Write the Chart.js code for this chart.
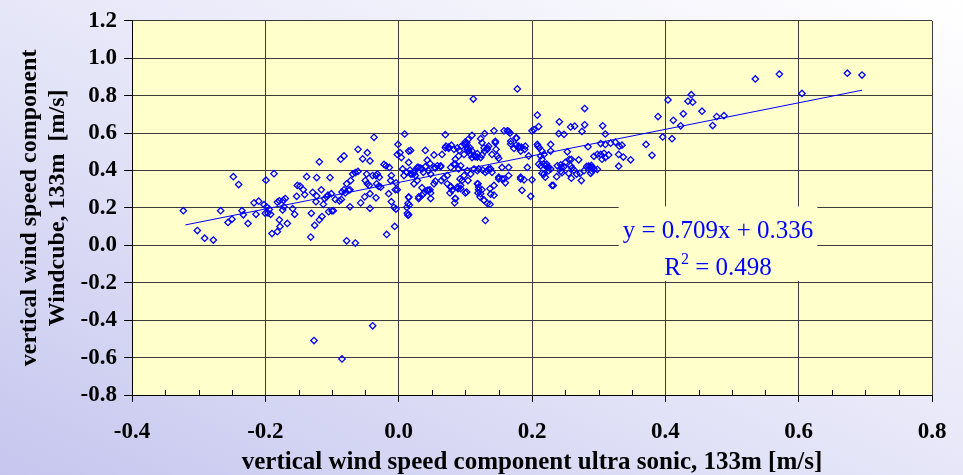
<!DOCTYPE html>
<html>
<head>
<meta charset="utf-8">
<script src="https://cdn.jsdelivr.net/npm/chart.js@4.4.1/dist/chart.umd.min.js"></script>
<style>
    html, body { margin: 0; padding: 0; }
    body {
        width: 963px;
        height: 475px;
        overflow: hidden;
        background: linear-gradient(to top right, #c6c6ef 0%, #e4e4f8 45%, #ffffff 100%);
    }
</style>
</head>
<body>
<canvas id="windChart" width="963" height="475"></canvas>
<script>
// tick labels
const xTickValues = [-0.4, -0.2, 0.0, 0.2, 0.4, 0.6, 0.8];
const yTickValues = [-0.8, -0.6, -0.4, -0.2, 0.0, 0.2, 0.4, 0.6, 0.8, 1.0, 1.2];

// axis titles
const xTitle = 'vertical wind speed component ultra sonic, 133m [m/s]';
const yTitle = ['vertical wind speed component', 'Windcube, 133m  [m/s]'];

// regression text
const equationText = 'y = 0.709x + 0.336';
const rSquaredText = '0.498';

// trend line end points (ultra sonic, windcube)
const trendX = [-0.32, 0.695];
const trendY = [0.109, 0.829];

// 10-min pairs: [ultra sonic, windcube]
const measuredPairs = [
    [-0.323,0.185],[-0.302,0.079],[-0.291,0.038],[-0.278,0.028],[-0.267,0.185],[-0.248,0.367],[-0.240,0.325],[-0.256,0.122],[-0.250,0.140],[-0.235,0.185],
    [-0.233,0.163],[-0.226,0.117],[-0.217,0.227],[-0.210,0.236],[-0.214,0.166],[-0.199,0.348],[-0.187,0.383],[-0.202,0.217],[-0.198,0.206],[-0.194,0.192],
    [-0.200,0.171],[-0.196,0.173],[-0.192,0.166],[-0.190,0.063],[-0.182,0.073],[-0.179,0.136],[-0.178,0.101],[-0.167,0.117],[-0.182,0.231],[-0.179,0.238],
    [-0.173,0.241],[-0.170,0.250],[-0.172,0.206],[-0.174,0.189],[-0.159,0.196],[-0.156,0.166],[-0.153,0.262],[-0.152,0.320],[-0.148,0.317],[-0.143,0.297],
    [-0.141,0.271],[-0.138,0.367],[-0.131,0.171],[-0.132,0.044],[-0.129,0.283],[-0.126,0.107],[-0.123,0.264],[-0.124,0.233],[-0.119,0.446],[-0.123,0.362],
    [-0.119,0.136],[-0.115,0.154],[-0.116,0.297],[-0.113,0.219],[-0.111,0.250],[-0.108,0.259],[-0.106,0.268],[-0.103,0.362],[-0.105,0.180],[-0.100,0.184],
    [-0.098,0.185],[-0.101,0.276],[-0.095,0.245],[-0.087,0.460],[-0.082,0.478],[-0.089,0.238],[-0.086,0.245],[-0.085,0.285],[-0.082,0.297],[-0.080,0.280],
    [-0.078,0.329],[-0.075,0.294],[-0.073,0.297],[-0.072,0.346],[-0.069,0.381],[-0.065,0.388],[-0.061,0.395],[-0.078,0.024],[-0.065,0.012],[-0.073,0.206],
    [-0.061,0.513],[-0.054,0.462],[-0.047,0.495],[-0.043,0.451],[-0.057,0.227],[-0.051,0.259],[-0.050,0.346],[-0.047,0.329],[-0.044,0.320],[-0.048,0.381],
    [-0.043,0.276],[-0.039,0.373],[-0.034,0.373],[-0.032,0.381],[-0.029,0.364],[-0.033,0.329],[-0.030,0.315],[-0.027,0.311],[-0.034,0.254],[-0.043,0.198],
    [-0.037,0.577],[-0.022,0.432],[-0.019,0.425],[-0.014,0.416],[-0.011,0.373],[-0.012,0.346],[-0.015,0.276],[-0.004,0.334],[-0.005,0.297],[-0.002,0.297],
    [-0.011,0.233],[-0.007,0.203],[-0.004,0.194],[-0.006,0.101],[-0.018,0.058],[-0.001,0.539],[-0.002,0.486],[0.002,0.495],[0.004,0.469],[0.006,0.408],
    [0.009,0.595],[-0.127,-0.509],[-0.085,-0.607],[-0.039,-0.430],
    [0.178,0.836],[0.112,0.782],[0.015,0.504],[0.018,0.507],
    [0.015,0.443],[0.017,0.402],[0.012,0.390],[0.008,0.373],[0.020,0.381],[0.023,0.395],[0.028,0.416],[0.033,0.413],[0.037,0.390],[0.040,0.507],
    [0.043,0.455],[0.047,0.437],[0.053,0.483],[0.055,0.413],[0.063,0.425],[0.065,0.486],[0.071,0.530],[0.070,0.591],[0.075,0.518],[0.079,0.535],
    [0.083,0.513],[0.085,0.460],[0.090,0.478],[0.085,0.434],[0.093,0.425],[0.098,0.486],[0.103,0.513],[0.100,0.553],[0.104,0.565],[0.107,0.521],
    [0.110,0.504],[0.114,0.478],[0.118,0.472],[0.123,0.469],[0.125,0.483],[0.129,0.504],[0.133,0.521],[0.135,0.530],[0.140,0.486],[0.143,0.612],
    [0.145,0.548],[0.148,0.478],[0.150,0.465],[0.155,0.416],[0.158,0.612],[0.163,0.612],[0.165,0.609],[0.168,0.556],[0.173,0.518],[0.177,0.574],
    [0.180,0.530],[0.183,0.504],[0.190,0.530],[0.195,0.478],
    [0.015,0.255],[0.012,0.203],[0.015,0.163],[0.023,0.329],[0.028,0.346],[0.030,0.259],[0.035,0.308],[0.037,0.276],[0.043,0.294],[0.047,0.297],
    [0.048,0.280],[0.053,0.329],[0.055,0.343],[0.064,0.346],[0.068,0.360],[0.073,0.373],[0.078,0.311],[0.080,0.294],[0.077,0.280],[0.085,0.250],
    [0.084,0.227],[0.089,0.303],[0.092,0.355],[0.093,0.320],[0.095,0.346],[0.104,0.346],[0.102,0.285],[0.108,0.381],[0.113,0.408],[0.118,0.399],
    [0.119,0.329],[0.120,0.297],[0.123,0.276],[0.122,0.259],[0.128,0.241],[0.133,0.399],[0.138,0.408],[0.137,0.303],[0.143,0.268],[0.137,0.220],
    [0.130,0.133],[0.150,0.364],[0.155,0.355],[0.160,0.334],[0.165,0.416],[0.183,0.355],[0.185,0.294],[0.193,0.416],[0.198,0.262],[0.200,0.350],
    [0.014,0.161],[0.203,0.618],[0.208,0.696],[0.210,0.635],[0.208,0.539],[0.213,0.478],[0.215,0.460],[0.218,0.434],[0.220,0.425],[0.223,0.416],
    [0.225,0.399],[0.218,0.381],[0.220,0.364],[0.228,0.504],
    [0.167,0.600],[0.176,0.574],[0.200,0.612],[0.129,0.597],[0.110,0.588],[0.123,0.570],
    [0.070,0.521],[0.075,0.525],[0.088,0.521],[0.091,0.507],[0.094,0.530],[0.099,0.539],[0.102,0.548],[0.103,0.522],[0.105,0.504],[0.108,0.486],
    [0.110,0.469],[0.115,0.474],[0.118,0.490],[0.125,0.548],[0.128,0.521],[0.133,0.513],[0.145,0.556],[0.146,0.513],[0.168,0.542],[0.176,0.535],
    [0.180,0.521],[0.184,0.525],[0.189,0.513],[0.209,0.530],[0.211,0.521],[0.215,0.504],[0.218,0.486],[0.222,0.434],[0.225,0.416],[0.228,0.408],
    [0.215,0.385],[0.018,0.381],[0.023,0.385],[0.025,0.373],[0.030,0.416],[0.035,0.408],[0.040,0.420],[0.045,0.399],[0.048,0.381],[0.054,0.416],
    [0.058,0.425],[0.063,0.420],[0.078,0.416],[0.083,0.434],[0.090,0.408],[0.098,0.373],[0.103,0.399],[0.120,0.408],[0.126,0.402],[0.130,0.390],
    [0.135,0.408],[0.140,0.390],[0.150,0.355],[0.158,0.355],[0.165,0.373],[0.183,0.364],[0.188,0.350],[0.073,0.329],[0.078,0.315],[0.088,0.311],
    [0.093,0.303],[0.100,0.280],[0.118,0.329],[0.120,0.311],[0.125,0.297],[0.138,0.273],[0.143,0.320],[0.045,0.294],[0.048,0.250],[0.035,0.268],
    [0.030,0.250],[0.015,0.259],[0.014,0.224],[0.016,0.215],[0.013,0.171],[0.085,0.250],[0.119,0.280],[0.128,0.241],[0.133,0.224],[0.230,0.320],
    [0.210,0.434],[0.213,0.425],
    [0.241,0.660],[0.258,0.633],[0.264,0.637],[0.279,0.731],[0.279,0.644],[0.275,0.609],[0.240,0.597],[0.248,0.593],[0.306,0.639],[0.310,0.595],
    [0.228,0.539],[0.253,0.500],[0.284,0.527],[0.303,0.544],[0.310,0.539],[0.318,0.546],[0.325,0.551],[0.331,0.530],[0.335,0.535],[0.256,0.460],
    [0.259,0.460],[0.270,0.457],[0.243,0.430],[0.244,0.416],[0.248,0.420],[0.243,0.395],[0.245,0.388],[0.237,0.367],[0.255,0.385],[0.260,0.413],
    [0.259,0.359],[0.267,0.381],[0.272,0.385],[0.274,0.346],[0.282,0.422],[0.285,0.423],[0.289,0.427],[0.290,0.416],[0.288,0.385],[0.298,0.406],
    [0.293,0.476],[0.298,0.486],[0.303,0.486],[0.308,0.492],[0.315,0.483],[0.310,0.469],[0.305,0.460],[0.330,0.486],[0.337,0.472],[0.348,0.457],
    [0.330,0.423],[0.232,0.320],[0.238,0.425],[0.250,0.443],[0.258,0.425],[0.263,0.402],[0.278,0.399],[0.287,0.416],[0.293,0.408],[0.290,0.395],
    [0.371,0.539],[0.380,0.481],[0.389,0.688],[0.396,0.579],[0.410,0.570],[0.412,0.668],[0.423,0.639],[0.427,0.703],
    [0.404,0.777],[0.434,0.770],[0.441,0.765],[0.455,0.717],[0.439,0.805],[0.471,0.640],[0.477,0.688],[0.488,0.693],[0.535,0.889],[0.571,0.915],
    [0.605,0.812],[0.673,0.920],[0.695,0.910]
];

const serif = "'Liberation Serif', 'Times New Roman', serif";
const plotColor = '#ffffcc';
const markColor = '#0000ff';

function formatTick(v) {
    const r = Math.round(v * 10) / 10;
    return (r === 0 ? 0 : r).toFixed(1);
}

// pale yellow plot area
const plotBackground = {
    id: 'plotBackground',
    beforeDraw(chart) {
        const { ctx, chartArea: a } = chart;
        ctx.save();
        ctx.fillStyle = plotColor;
        ctx.fillRect(a.left, a.top, a.right - a.left, a.bottom - a.top);
        ctx.restore();
    }
};

// small inner ticks on the x axis
const minorTicks = {
    id: 'minorTicks',
    afterDatasetsDraw(chart) {
        const { ctx, chartArea: a, scales } = chart;
        const xs = scales.x;
        ctx.save();
        ctx.strokeStyle = '#000';
        ctx.lineWidth = 1;
        for (let i = 0; i < xTickValues.length - 1; i++) {
            for (let k = 1; k < 4; k++) {
                const v = xTickValues[i] + k * (xTickValues[i + 1] - xTickValues[i]) / 4;
                const px = Math.round(xs.getPixelForValue(v)) + 0.5;
                ctx.beginPath();
                ctx.moveTo(px, a.bottom);
                ctx.lineTo(px, a.bottom - 5);
                ctx.stroke();
            }
        }
        ctx.restore();
    }
};

// regression equation with its own background patch
const equationLabel = {
    id: 'equationLabel',
    beforeDatasetsDraw(chart) {
        const { ctx, scales } = chart;
        const left = scales.x.getPixelForValue(0.33);
        const right = scales.x.getPixelForValue(0.628);
        const top = scales.y.getPixelForValue(0.208);
        const bottom = scales.y.getPixelForValue(-0.19);
        ctx.save();
        ctx.fillStyle = plotColor;
        ctx.fillRect(left, top, right - left, bottom - top);

        const cx = (left + right) / 2;
        ctx.fillStyle = markColor;
        ctx.textBaseline = 'alphabetic';
        ctx.font = "25px " + serif;
        ctx.textAlign = 'center';
        ctx.fillText(equationText, cx, top + 32);

        const rest = ' = ' + rSquaredText;
        const wR = ctx.measureText('R').width;
        const wRest = ctx.measureText(rest).width;
        ctx.font = "16px " + serif;
        const w2 = ctx.measureText('2').width;
        const start = cx - (wR + w2 + wRest) / 2;
        const base = top + 69;
        ctx.textAlign = 'left';
        ctx.font = "25px " + serif;
        ctx.fillText('R', start, base);
        ctx.font = "16px " + serif;
        ctx.fillText('2', start + wR, base - 11);
        ctx.font = "25px " + serif;
        ctx.fillText(rest, start + wR + w2, base);
        ctx.restore();
    }
};

const ctx = document.getElementById('windChart').getContext('2d');
new Chart(ctx, {
    type: 'scatter',
    data: {
        datasets: [
            {
                type: 'line',
                data: trendX.map((x, i) => ({ x: x, y: trendY[i] })),
                borderColor: markColor,
                borderWidth: 1,
                pointRadius: 0,
                fill: false
            },
            {
                data: measuredPairs.map(p => ({ x: p[0], y: p[1] })),
                pointStyle: 'rectRot',
                pointRadius: 3.2,
                pointBorderWidth: 1.3,
                borderColor: markColor,
                backgroundColor: 'rgba(0,0,0,0)'
            }
        ]
    },
    options: {
        responsive: false,
        animation: false,
        layout: { padding: { left: 0, top: 15, right: 31, bottom: 0 } },
        plugins: {
            legend: { display: false },
            tooltip: { enabled: false }
        },
        scales: {
            x: {
                type: 'linear',
                min: -0.4,
                max: 0.8,
                afterBuildTicks: s => { s.ticks = xTickValues.map(v => ({ value: v })); },
                afterFit: s => { s.height = 80; },
                ticks: {
                    callback: formatTick,
                    font: { family: serif, size: 23, weight: 'bold' },
                    color: '#000',
                    padding: 16,
                    maxRotation: 0,
                    autoSkip: false
                },
                grid: { color: '#3c3c3c', lineWidth: 1, tickLength: 7, tickColor: '#000' },
                border: { color: '#000', width: 1 },
                title: {
                    display: true,
                    text: xTitle,
                    color: '#000',
                    font: { family: serif, size: 25, weight: 'bold', lineHeight: 1 },
                    padding: { top: 0, bottom: 0 }
                }
            },
            y: {
                type: 'linear',
                min: -0.8,
                max: 1.2,
                afterBuildTicks: s => { s.ticks = yTickValues.map(v => ({ value: v })); },
                afterFit: s => { s.width = 132; },
                ticks: {
                    callback: formatTick,
                    font: { family: serif, size: 23, weight: 'bold' },
                    color: '#000',
                    padding: 7
                },
                grid: { color: '#3c3c3c', lineWidth: 1, tickLength: 8, tickColor: '#000' },
                border: { color: '#000', width: 1 },
                title: {
                    display: true,
                    text: yTitle,
                    color: '#000',
                    font: { family: serif, size: 24, weight: 'bold', lineHeight: 1.15 },
                    padding: { top: 16, bottom: 0 }
                }
            }
        }
    },
    plugins: [plotBackground, minorTicks, equationLabel]
});
</script>
</body>
</html>
